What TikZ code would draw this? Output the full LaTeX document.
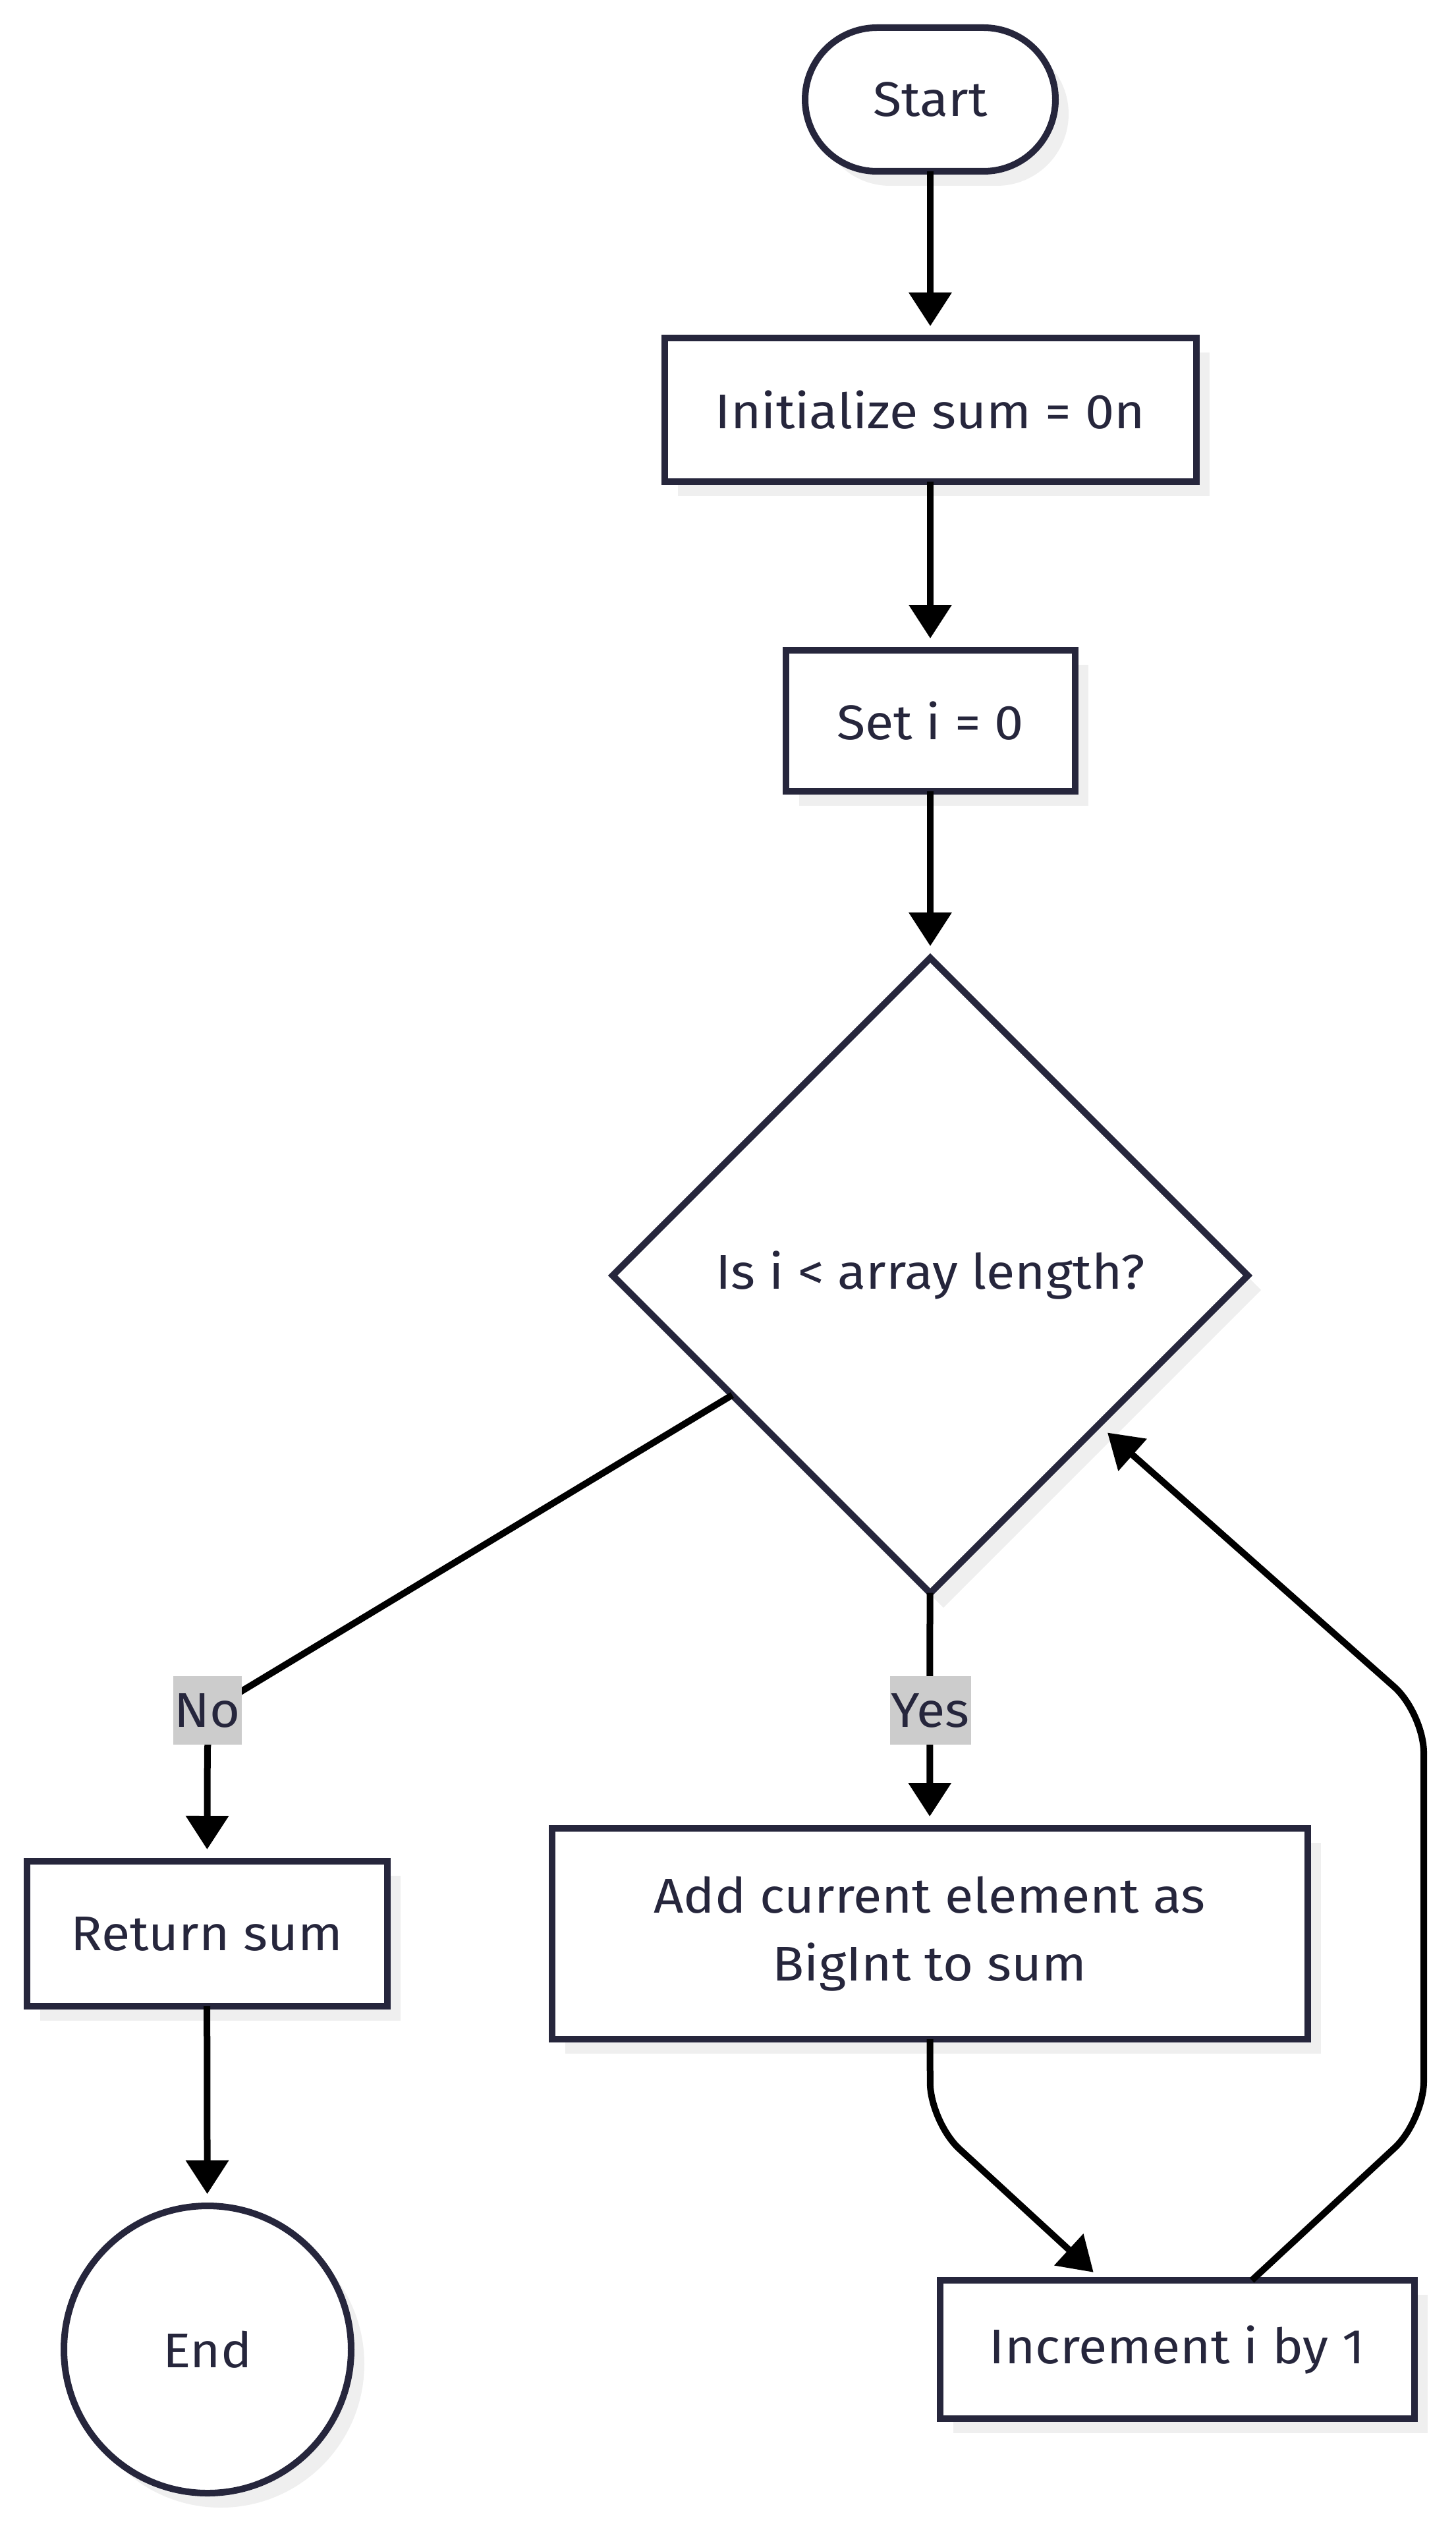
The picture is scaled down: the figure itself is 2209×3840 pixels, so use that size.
\documentclass[tikz,border=0pt]{standalone}
\usepackage{fontspec}
\setmainfont{Fira Sans}[FakeStretch=1.07]
\usetikzlibrary{shapes.geometric,arrows.meta,shadows}
\definecolor{navy}{RGB}{38,38,60}
\definecolor{shadowc}{RGB}{239,239,239}
\definecolor{labelgray}{RGB}{204,204,204}
\begin{document}
\begin{tikzpicture}[x=0.25pt,y=-0.25pt,
  every node/.style={font=\fontsize{18.5pt}{25.7pt}\selectfont, text=navy, outer sep=0pt},
  base/.style={draw=navy, line width=2.5pt, fill=white,
    general shadow={fill=shadowc, shadow xshift=5pt, shadow yshift=-5.5pt}},
  procbox/.style={base, rectangle, align=center},
  termbox/.style={base, rectangle, rounded corners=27.25pt},
  decbox/.style={base, diamond, aspect=1, minimum width=241pt, minimum height=241pt},
  endbox/.style={base, circle, minimum size=109pt},
  edge/.style={draw=black, line width=2.5pt, rounded corners=15pt,
    -{Triangle[length=12.75pt,width=15.75pt]}, shorten >=4.5pt},
  elabel/.style={fill=labelgray, inner xsep=0.5pt, inner ysep=0pt, minimum height=26pt}
]
\useasboundingbox (0,0) rectangle (2209,3840);

\node[termbox, minimum width=95pt, minimum height=54.5pt] (start) at (1412,151) {Start};
\node[procbox, minimum width=201.75pt, minimum height=54.5pt] (init) at (1412,622) {Initialize sum = 0n};
\node[procbox, minimum width=109.75pt, minimum height=53.5pt] (seti) at (1412,1094) {Set i = 0};
\node[decbox] (dia) at (1412,1936) {Is i < array length?};
\node[procbox, minimum width=136.75pt, minimum height=55pt] (ret) at (314,2935) {Return sum};
\node[procbox, minimum width=286.75pt, minimum height=80pt] (add) at (1411,2935) {Add current element as\\BigInt to sum};
\node[procbox, minimum width=180pt, minimum height=52.5pt] (inc) at (1787,3566) {Increment i by 1};
\node[endbox] (fin) at (315,3566) {End};

\coordinate (nob) at (315,2598);
\coordinate (c0) at (1412,3221);
\coordinate (c1) at (2161,3219);
\coordinate (c2) at (2161,2600);

\draw[edge] (start) -- (init);
\draw[edge] (init) -- (seti);
\draw[edge] (seti) -- (dia);
\draw[edge] (dia) -- (nob) -- (ret);
\draw[edge] (dia) -- (add);
\draw[edge] (ret) -- (fin);
\draw[edge] (add) -- (c0) -- (inc);
\draw[edge] (inc) -- (c1) -- (c2) -- (dia);

\node[elabel] (nolab) at (315,2596) {No};
\node[elabel] (yeslab) at (1412,2596) {Yes};
\end{tikzpicture}
\end{document}
